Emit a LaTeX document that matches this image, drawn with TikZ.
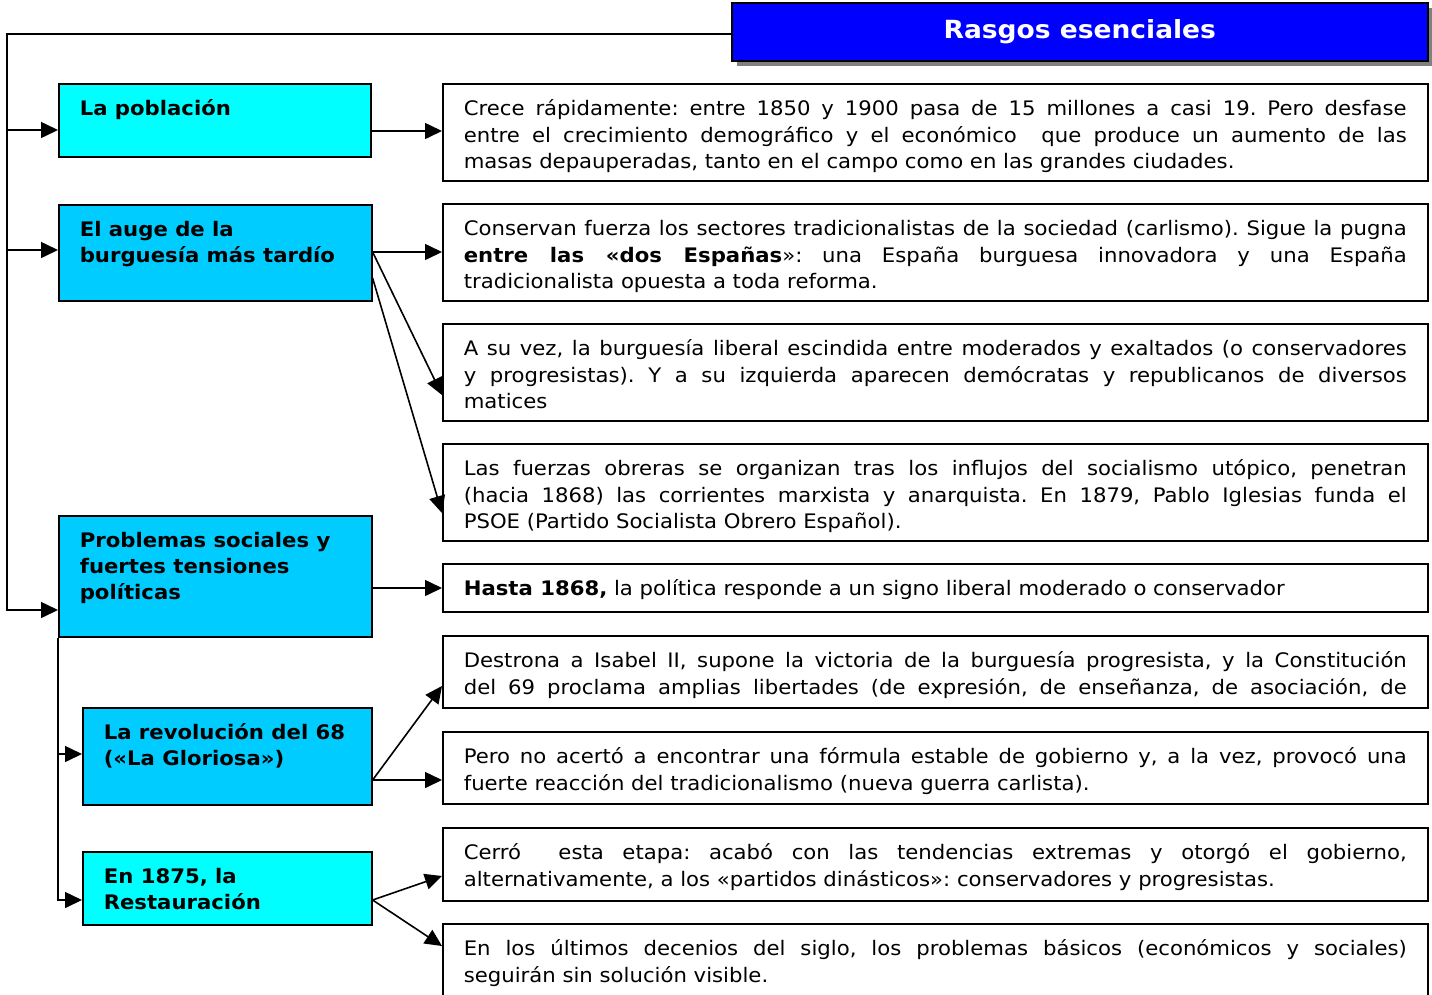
\documentclass[tikz,border=0pt]{standalone}
\usepackage{fontspec}
\setmainfont[FakeStretch=1.06]{DejaVu Sans}
\usetikzlibrary{arrows.meta,shadows}
\frenchspacing
% linea justificada y caja de texto
\newcommand{\linea}[1]{\makebox[\linewidth][s]{#1}\\}
\newcommand{\caja}[3]{\parbox[c][#1][t]{#2}{\raggedright\rule{0pt}{32pt}#3}}
\begin{document}
\begin{tikzpicture}[x=1pt,y=-1pt,
    font=\fontsize{20}{26.5}\selectfont,
    marco/.style={draw=black,line width=1.6pt,inner xsep=21pt,inner ysep=0pt,anchor=north west},
    izq/.style={marco,fill=#1,font=\fontsize{20}{26}\selectfont\bfseries},
    der/.style={marco,fill=white},
    flecha/.style={line width=1.6pt,-{Triangle[length=17pt,width=16pt]}}]
    %colores
    \definecolor{cian}{RGB}{0,255,255}
    \definecolor{celeste}{RGB}{0,204,255}
    \definecolor{azul}{RGB}{0,0,255}
    \useasboundingbox (0,0) rectangle (1432,994);

    % Titulo
    \node[anchor=north west,draw=black,line width=1.6pt,fill=azul,text=white,
        minimum width=696pt,minimum height=58pt,inner sep=0pt,
        font=\fontsize{25}{29}\selectfont\bfseries,
        drop shadow={shadow xshift=5pt,shadow yshift=-5pt,fill=gray,opacity=1}]
        (titulo) at (731,2) {Rasgos esenciales};

    % Cajas de la izquierda
    \node[izq=cian] (poblacion) at (58,83) {\caja{73pt}{270pt}{La población}};
    \node[izq=celeste] (burguesia) at (58,204) {\caja{96pt}{271pt}{El auge de la\\ burguesía más tardío}};
    \node[izq=celeste] (problemas) at (58,515) {\caja{121pt}{271pt}{Problemas sociales y\\ fuertes tensiones\\ políticas}};
    \node[izq=celeste] (revolucion) at (82,707) {\caja{97pt}{247pt}{La revolución del 68\\ («La Gloriosa»)}};
    \node[izq=cian] (restauracion) at (82,851) {\caja{73pt}{247pt}{En 1875, la\\ Restauración}};

    % Cajas de texto de la derecha
    \node[der] (crece) at (442,83) {\caja{97pt}{943pt}{%
        \linea{Crece rápidamente: entre 1850 y 1900 pasa de 15 millones a casi 19. Pero desfase}
        \linea{entre el crecimiento demográfico y el económico \ que produce un aumento de las}
        masas depauperadas, tanto en el campo como en las grandes ciudades.}};
    \node[der] (pugna) at (442,203) {\caja{97pt}{943pt}{%
        \linea{Conservan fuerza los sectores tradicionalistas de la sociedad (carlismo). Sigue la pugna}
        \linea{\textbf{entre las «dos Españas}»: una España burguesa innovadora y una España}
        tradicionalista opuesta a toda reforma.}};
    \node[der] (escindida) at (442,323) {\caja{97pt}{943pt}{%
        \linea{A su vez, la burguesía liberal escindida entre moderados y exaltados (o conservadores}
        \linea{y progresistas). Y a su izquierda aparecen demócratas y republicanos de diversos}
        matices}};
    \node[der] (obreras) at (442,443) {\caja{97pt}{943pt}{%
        \linea{Las fuerzas obreras se organizan tras los influjos del socialismo utópico, penetran}
        \linea{(hacia 1868) las corrientes marxista y anarquista. En 1879, Pablo Iglesias funda el}
        PSOE (Partido Socialista Obrero Español).}};
    \node[der] (hasta) at (442,563) {\caja{48pt}{943pt}{%
        \textbf{Hasta 1868,} la política responde a un signo liberal moderado o conservador}};
    \node[der] (destrona) at (442,635) {\caja{72pt}{943pt}{%
        \linea{Destrona a Isabel II, supone la victoria de la burguesía progresista, y la Constitución}
        \linea{del 69 proclama amplias libertades (de expresión, de enseñanza, de asociación, de}}};
    \node[der] (acerto) at (442,731) {\caja{72pt}{943pt}{%
        \linea{Pero no acertó a encontrar una fórmula estable de gobierno y, a la vez, provocó una}
        fuerte reacción del tradicionalismo (nueva guerra carlista).}};
    \node[der] (cerro) at (442,827) {\caja{73pt}{943pt}{%
        \linea{Cerró \ esta etapa: acabó con las tendencias extremas y otorgó el gobierno,}
        alternativamente, a los «partidos dinásticos»: conservadores y progresistas.}};
    \node[der] (decenios) at (442,923) {\caja{80pt}{943pt}{%
        \linea{En los últimos decenios del siglo, los problemas básicos (económicos y sociales)}
        seguirán sin solución visible.}};

    % Tronco principal
    \coordinate (t0) at (7,34);
    \coordinate (e1) at (7,130);
    \coordinate (e2) at (7,250);
    \coordinate (e3) at (7,610);
    \draw[flecha] (titulo.west |- t0) -| (e3) -- (e3 -| problemas.west);
    \draw[flecha] (e1) -- (e1 -| poblacion.west);
    \draw[flecha] (e2) -- (e2 -| burguesia.west);

    % Tronco secundario
    \coordinate (s1) at (58,754);
    \coordinate (s2) at (58,900);
    \draw[flecha] (problemas.south west) |- (s2 -| restauracion.west);
    \draw[flecha] (s1) -- (s1 -| revolucion.west);

    % Flechas hacia los textos
    \coordinate (o1) at ([yshift=-48pt]poblacion.north east);
    \coordinate (o2) at ([yshift=-48pt]burguesia.north east);
    \coordinate (o3) at ([yshift=-74pt]burguesia.north east);
    \coordinate (o4) at ([yshift=-73pt]problemas.north east);
    \coordinate (o5) at ([yshift=-73pt]revolucion.north east);
    \coordinate (o6) at ([yshift=-49pt]restauracion.north east);
    \draw[flecha] (o1) -- ([yshift=-48pt]crece.north west);
    \draw[flecha] (o2) -- ([yshift=-49pt]pugna.north west);
    \draw[flecha] (o2) -- ([yshift=-72pt]escindida.north west);
    \draw[flecha] (o3) -- ([yshift=-70pt]obreras.north west);
    \draw[flecha] (o4) -- ([yshift=-25pt]hasta.north west);
    \draw[flecha] (o5) -- ([yshift=-51pt]destrona.north west);
    \draw[flecha] (o5) -- ([yshift=-49pt]acerto.north west);
    \draw[flecha] (o6) -- ([yshift=-49pt]cerro.north west);
    \draw[flecha] (o6) -- ([yshift=-23pt]decenios.north west);
\end{tikzpicture}
\end{document}
